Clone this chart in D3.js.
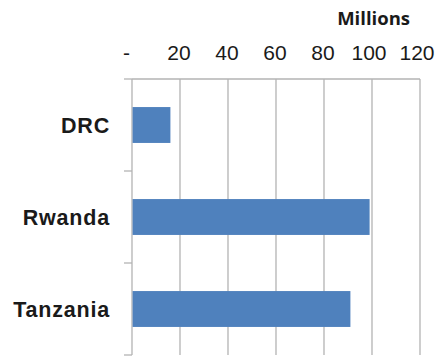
<!DOCTYPE html>
<html>
<head>
<meta charset="utf-8">
<script src="https://cdn.jsdelivr.net/npm/d3@7"></script>
<style>
  html, body { margin: 0; padding: 0; background: #fff; }
  svg { display: block; }
</style>
</head>
<body>
<svg id="chart" width="441" height="358"></svg>
<script>
// Population by country, in millions
const countries = ["DRC", "Rwanda", "Tanzania"];
const values = [16, 99, 91];
const tickValues = [0, 20, 40, 60, 80, 100, 120];
const tickLabels = ["-", "20", "40", "60", "80", "100", "120"];
const unitLabel = "Millions";

const svg = d3.select("#chart");
const plotLeft = 132, plotRight = 420, plotTop = 79, plotBottom = 355;

const x = d3.scaleLinear().domain([0, 120]).range([plotLeft, plotRight]);
const y = d3.scaleBand().domain(countries).range([plotTop, plotBottom]).paddingInner(0.61).paddingOuter(0.305);

const grid = "#b3b3b3";

// vertical gridlines
svg.append("g").selectAll("line")
  .data(tickValues)
  .join("line")
  .attr("x1", d => x(d)).attr("x2", d => x(d))
  .attr("y1", plotTop).attr("y2", plotBottom)
  .attr("stroke", grid).attr("stroke-width", 1.3);

// top axis line
svg.append("line")
  .attr("x1", plotLeft).attr("x2", plotRight)
  .attr("y1", plotTop).attr("y2", plotTop)
  .attr("stroke", grid).attr("stroke-width", 1.3);

// category axis ticks at band boundaries
const boundaries = d3.range(countries.length + 1).map(i => plotTop + i * (plotBottom - plotTop) / countries.length);
svg.append("g").selectAll("line")
  .data(boundaries)
  .join("line")
  .attr("x1", plotLeft - 8).attr("x2", plotLeft)
  .attr("y1", d => d).attr("y2", d => d)
  .attr("stroke", grid).attr("stroke-width", 1.3);

// bars
svg.append("g").selectAll("rect")
  .data(countries)
  .join("rect")
  .attr("x", x(0) + 0.6)
  .attr("y", d => y(d))
  .attr("width", (d, i) => x(values[i]) - x(0) - 0.6)
  .attr("height", y.bandwidth())
  .attr("fill", "#4f81bd");

// tick labels along the top
svg.append("g").selectAll("text")
  .data(tickValues)
  .join("text")
  .attr("x", (d, i) => i === 0 ? x(d) - 5.5 : x(d) - 1 - (tickLabels[i].length - 2) * 2)
  .attr("y", 60)
  .attr("text-anchor", "middle")
  .attr("font-family", "Liberation Sans, Arial, sans-serif")
  .attr("font-size", 21)
  .attr("fill", "#1a1a1a")
  .text((d, i) => tickLabels[i]);

// unit label
svg.append("text")
  .attr("x", 410)
  .attr("y", 25)
  .attr("text-anchor", "end")
  .attr("font-family", "Open Sans, Liberation Sans, sans-serif")
  .attr("font-weight", "bold")
  .attr("font-size", 18.5)
  .attr("fill", "#1a1a1a")
  .text(unitLabel);

// category labels
svg.append("g").selectAll("text")
  .data(countries)
  .join("text")
  .attr("x", 110)
  .attr("y", d => y(d) + y.bandwidth() / 2 + 7.5)
  .attr("text-anchor", "end")
  .attr("font-family", "Liberation Sans, Arial, sans-serif")
  .attr("font-weight", "bold")
  .attr("font-size", 21.5)
  .attr("letter-spacing", 0.8)
  .attr("fill", "#1a1a1a")
  .text(d => d);
</script>
</body>
</html>
